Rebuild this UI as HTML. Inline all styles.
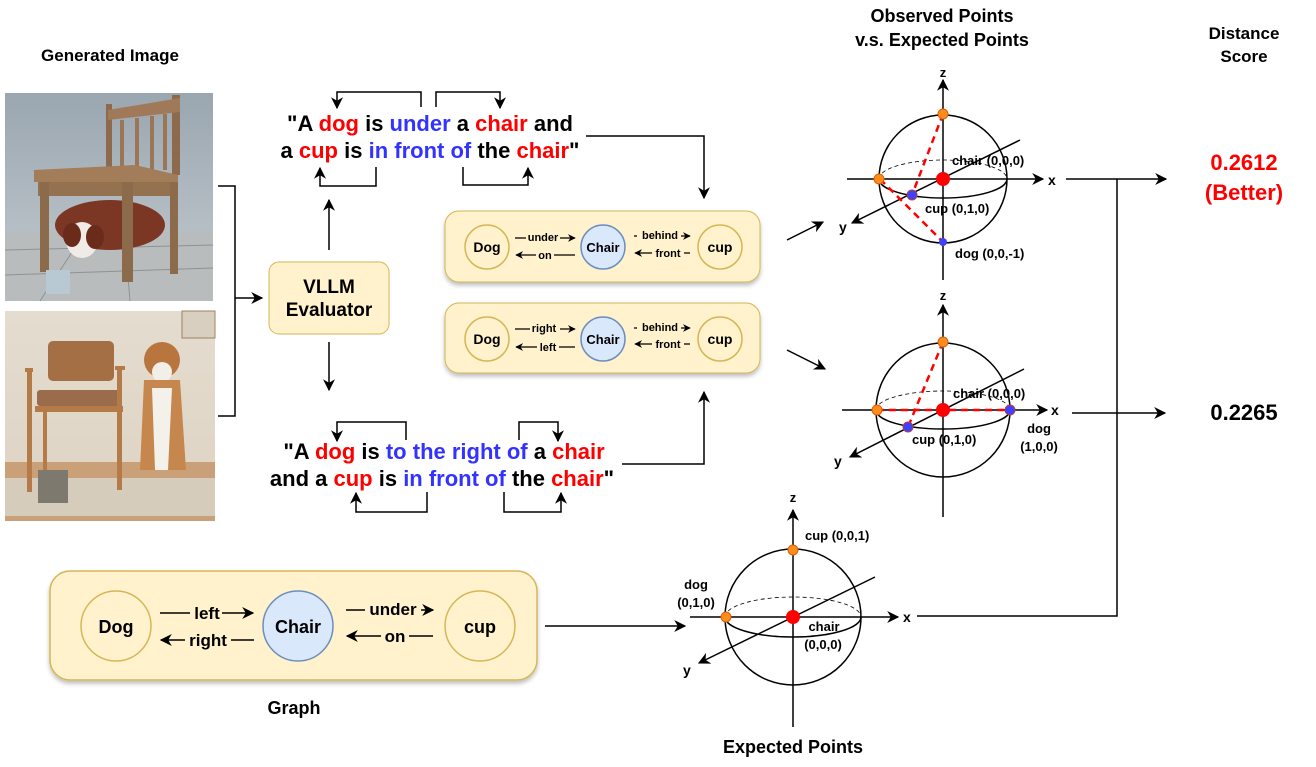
<!DOCTYPE html>
<html><head><meta charset="utf-8"><style>
html,body{margin:0;padding:0;background:#fff;}
svg{display:block;}
text{font-family:"Liberation Sans",Arial,sans-serif;font-weight:bold;}
</style></head><body>
<svg width="1316" height="767" viewBox="0 0 1316 767" xmlns="http://www.w3.org/2000/svg">
<defs>
<marker id="a" viewBox="0 0 10 10" refX="9" refY="5" markerWidth="8" markerHeight="8" orient="auto-start-reverse"><path d="M0,0 L10,5 L0,10 L3,5 z" fill="#000"/></marker>
<marker id="s" viewBox="0 0 10 10" refX="9" refY="5" markerWidth="6" markerHeight="6" orient="auto-start-reverse"><path d="M0,0 L10,5 L0,10 L3,5 z" fill="#000"/></marker>
<linearGradient id="w1" x1="0" y1="0" x2="0" y2="1"><stop offset="0" stop-color="#9aa6b0"/><stop offset="1" stop-color="#c4cbd0"/></linearGradient>
<linearGradient id="w2" x1="0" y1="0" x2="0" y2="1"><stop offset="0" stop-color="#e4dccf"/><stop offset="1" stop-color="#ddd3c3"/></linearGradient>
<filter id="sh" x="-5%" y="-5%" width="110%" height="120%"><feDropShadow dx="0" dy="3" stdDeviation="2" flood-color="#000" flood-opacity="0.25"/></filter>
</defs>

<!-- Image 1 -->
<rect x="5" y="93" width="208" height="208" fill="url(#w1)"/>
<rect x="5" y="232" width="208" height="69" fill="#b9bcbd"/>
<g stroke="#8e9295" stroke-width="1"><line x1="5" y1="250" x2="213" y2="245"/><line x1="5" y1="275" x2="213" y2="268"/><line x1="40" y1="301" x2="80" y2="240"/><line x1="130" y1="301" x2="125" y2="240"/></g>
<rect x="106" y="104" width="6" height="70" fill="#8d6a4e"/><rect x="172" y="95" width="8" height="80" fill="#8d6a4e"/>
<path d="M108,110 L180,98 L180,112 L108,120z" fill="#a07a58"/>
<g fill="#9a7655"><rect x="120" y="120" width="4" height="50"/><rect x="135" y="118" width="4" height="52"/><rect x="150" y="116" width="4" height="54"/><rect x="163" y="114" width="4" height="56"/></g>
<path d="M34,170 L135,165 L178,175 L178,182 L34,182z" fill="#a37c5a"/>
<rect x="38" y="182" width="135" height="14" fill="#94714f"/>
<ellipse cx="110" cy="225" rx="55" ry="25" fill="#7b3624"/>
<ellipse cx="82" cy="240" rx="16" ry="18" fill="#f0ebe6"/><ellipse cx="72" cy="235" rx="9" ry="12" fill="#6b2b1b"/>
<ellipse cx="95" cy="237" rx="9" ry="12" fill="#6b2b1b"/>
<rect x="40" y="182" width="9" height="90" fill="#8c6a4c"/><rect x="122" y="182" width="11" height="100" fill="#8c6a4c"/><rect x="170" y="182" width="8" height="92" fill="#8c6a4c"/>
<rect x="46" y="270" width="24" height="24" fill="#b8c9d3"/>

<!-- Image 2 -->
<rect x="5" y="311" width="210" height="210" fill="url(#w2)"/>
<rect x="5" y="462" width="210" height="59" fill="#c9a077"/>
<rect x="5" y="478" width="210" height="38" fill="#d6ccbb"/>
<rect x="182" y="311" width="33" height="27" fill="#d8cfc0" stroke="#9c8361" stroke-width="1"/>
<rect x="48" y="341" width="66" height="40" rx="5" fill="#a56f45"/>
<rect x="37" y="390" width="84" height="16" rx="3" fill="#9a6c4c"/>
<g fill="#b47a48"><rect x="25" y="368" width="8" height="4"/><rect x="115" y="366" width="10" height="4"/><rect x="27" y="372" width="5" height="120"/><rect x="117" y="370" width="5" height="120"/><rect x="43" y="408" width="4" height="75"/><rect x="35" y="406" width="88" height="6"/></g>
<ellipse cx="162" cy="360" rx="18" ry="18" fill="#b8753e"/>
<ellipse cx="162" cy="372" rx="10" ry="10" fill="#f2eee8"/>
<path d="M144,380 L180,380 L186,470 L140,470z" fill="#c6874e"/>
<path d="M152,388 L172,388 L168,470 L155,470z" fill="#f4f0ea"/>
<rect x="38" y="470" width="30" height="33" fill="#7d796f"/>

<!-- bracket from images -->
<path d="M218,186 H235 V416 H218" fill="none" stroke="#000" stroke-width="1.5"/>
<line x1="235" y1="298" x2="262" y2="298" stroke="#000" stroke-width="1.5" marker-end="url(#a)"/>

<!-- VLLM box -->
<rect x="269" y="262" width="120" height="72" rx="10" fill="#fff2cc" stroke="#d6b656" stroke-width="1"/>
<text x="329" y="293" font-size="19" text-anchor="middle">VLLM</text>
<text x="329" y="316" font-size="19" text-anchor="middle">Evaluator</text>
<line x1="329" y1="250" x2="329" y2="200" stroke="#000" stroke-width="1.5" marker-end="url(#a)"/>
<line x1="329" y1="342" x2="329" y2="390" stroke="#000" stroke-width="1.5" marker-end="url(#a)"/>

<!-- Top sentence -->
<text x="430" y="131" font-size="22" text-anchor="middle">"A <tspan fill="#ff0000">dog</tspan> is  <tspan fill="#3333ff">under</tspan> a <tspan fill="#ff0000">chair</tspan> and</text>
<text x="430" y="158" font-size="22" text-anchor="middle">a <tspan fill="#ff0000">cup</tspan> is <tspan fill="#3333ff">in front of</tspan> the <tspan fill="#ff0000">chair</tspan>"</text>
<g fill="none" stroke="#000" stroke-width="1.5">
<path d="M421,107 V92 H337 V108" marker-end="url(#a)"/>
<path d="M436,107 V92 H500 V108" marker-end="url(#a)"/>
<path d="M376,167 V186 H320 V168" marker-end="url(#a)"/>
<path d="M463,167 V185 H528 V168" marker-end="url(#a)"/>
<path d="M586,136 H704 V198" marker-end="url(#a)"/>
</g>

<!-- Bottom sentence -->
<text x="444" y="459" font-size="22" text-anchor="middle">"A <tspan fill="#ff0000">dog</tspan> is <tspan fill="#3333ff">to the right of</tspan> a <tspan fill="#ff0000">chair</tspan></text>
<text x="442" y="486" font-size="22" text-anchor="middle">and a <tspan fill="#ff0000">cup</tspan> is <tspan fill="#3333ff">in front of</tspan> the <tspan fill="#ff0000">chair</tspan>"</text>
<g fill="none" stroke="#000" stroke-width="1.5">
<path d="M406,440 V422 H337 V441" marker-end="url(#a)"/>
<path d="M519,440 V422 H558 V441" marker-end="url(#a)"/>
<path d="M427,492 V512 H356 V493" marker-end="url(#a)"/>
<path d="M504,492 V512 H561 V493" marker-end="url(#a)"/>
<path d="M622,464 H704 V392" marker-end="url(#a)"/>
</g>

<!-- small graph boxes -->
<g font-size="13">
<rect x="445" y="211" width="315" height="71" rx="14" fill="#fff2cc" stroke="#d6b656" filter="url(#sh)"/>
<circle cx="487" cy="247" r="22" fill="#fff2cc" stroke="#d6b656" stroke-width="1.5"/>
<circle cx="603" cy="247" r="22" fill="#dae8fc" stroke="#6c8ebf" stroke-width="1.5"/>
<circle cx="720" cy="247" r="22" fill="#fff2cc" stroke="#d6b656" stroke-width="1.5"/>
<text x="487" y="252" text-anchor="middle" font-size="14">Dog</text>
<text x="603" y="252" text-anchor="middle" font-size="13">Chair</text>
<text x="720" y="252" text-anchor="middle" font-size="14">cup</text>
<line x1="515" y1="238" x2="575" y2="238" stroke="#000" stroke-width="1.3" marker-end="url(#s)"/>
<rect x="526" y="230" width="34" height="13" fill="#fff2cc"/><text x="543" y="241" text-anchor="middle" font-size="11">under</text>
<line x1="575" y1="255" x2="516" y2="255" stroke="#000" stroke-width="1.3" marker-end="url(#s)"/>
<rect x="536" y="248" width="18" height="13" fill="#fff2cc"/><text x="545" y="259" text-anchor="middle" font-size="11">on</text>
<line x1="634" y1="236" x2="690" y2="236" stroke="#000" stroke-width="1.3" marker-end="url(#s)"/>
<rect x="637" y="228" width="44" height="13" fill="#fff2cc"/><text x="660" y="239" text-anchor="middle" font-size="11">behind</text>
<line x1="690" y1="253" x2="635" y2="253" stroke="#000" stroke-width="1.3" marker-end="url(#s)"/>
<rect x="652" y="246" width="32" height="13" fill="#fff2cc"/><text x="668" y="257" text-anchor="middle" font-size="11">front</text>

<rect x="445" y="303" width="315" height="70" rx="14" fill="#fff2cc" stroke="#d6b656" filter="url(#sh)"/>
<circle cx="487" cy="339" r="22" fill="#fff2cc" stroke="#d6b656" stroke-width="1.5"/>
<circle cx="603" cy="339" r="22" fill="#dae8fc" stroke="#6c8ebf" stroke-width="1.5"/>
<circle cx="720" cy="339" r="22" fill="#fff2cc" stroke="#d6b656" stroke-width="1.5"/>
<text x="487" y="344" text-anchor="middle" font-size="14">Dog</text>
<text x="603" y="344" text-anchor="middle" font-size="13">Chair</text>
<text x="720" y="344" text-anchor="middle" font-size="14">cup</text>
<line x1="515" y1="329" x2="575" y2="329" stroke="#000" stroke-width="1.3" marker-end="url(#s)"/>
<rect x="530" y="321" width="30" height="13" fill="#fff2cc"/><text x="544" y="332" text-anchor="middle" font-size="11">right</text>
<line x1="575" y1="347" x2="516" y2="347" stroke="#000" stroke-width="1.3" marker-end="url(#s)"/>
<rect x="537" y="340" width="22" height="13" fill="#fff2cc"/><text x="548" y="351" text-anchor="middle" font-size="11">left</text>
<line x1="634" y1="328" x2="690" y2="328" stroke="#000" stroke-width="1.3" marker-end="url(#s)"/>
<rect x="637" y="320" width="44" height="13" fill="#fff2cc"/><text x="660" y="331" text-anchor="middle" font-size="11">behind</text>
<line x1="690" y1="344" x2="635" y2="344" stroke="#000" stroke-width="1.3" marker-end="url(#s)"/>
<rect x="652" y="337" width="32" height="13" fill="#fff2cc"/><text x="668" y="348" text-anchor="middle" font-size="11">front</text>
</g>
<line x1="787" y1="240" x2="823" y2="222" stroke="#000" stroke-width="1.5" marker-end="url(#a)"/>
<line x1="787" y1="350" x2="825" y2="369" stroke="#000" stroke-width="1.5" marker-end="url(#a)"/>

<!-- Large graph -->
<rect x="50" y="571" width="487" height="109" rx="20" fill="#fff2cc" stroke="#d6b656" stroke-width="1.5" filter="url(#sh)"/>
<ellipse cx="116" cy="626" rx="35" ry="35" fill="#fff2cc" stroke="#d6b656" stroke-width="1.5"/>
<ellipse cx="298" cy="626" rx="35" ry="35" fill="#dae8fc" stroke="#6c8ebf" stroke-width="1.5"/>
<ellipse cx="480" cy="626" rx="35" ry="35" fill="#fff2cc" stroke="#d6b656" stroke-width="1.5"/>
<text x="116" y="633" text-anchor="middle" font-size="18">Dog</text>
<text x="298" y="633" text-anchor="middle" font-size="18">Chair</text>
<text x="480" y="633" text-anchor="middle" font-size="18">cup</text>
<line x1="160" y1="613" x2="253" y2="613" stroke="#000" stroke-width="1.5" marker-end="url(#a)"/>
<rect x="190" y="603" width="32" height="18" fill="#fff2cc"/><text x="207" y="619" text-anchor="middle" font-size="17">left</text>
<line x1="254" y1="640" x2="161" y2="640" stroke="#000" stroke-width="1.5" marker-end="url(#a)"/>
<rect x="185" y="630" width="46" height="20" fill="#fff2cc"/><text x="208" y="646" text-anchor="middle" font-size="17">right</text>
<line x1="346" y1="610" x2="433" y2="610" stroke="#000" stroke-width="1.5" marker-end="url(#a)"/>
<rect x="365" y="600" width="56" height="18" fill="#fff2cc"/><text x="393" y="615" text-anchor="middle" font-size="17">under</text>
<line x1="433" y1="636" x2="347" y2="636" stroke="#000" stroke-width="1.5" marker-end="url(#a)"/>
<rect x="381" y="626" width="28" height="18" fill="#fff2cc"/><text x="395" y="642" text-anchor="middle" font-size="17">on</text>
<text x="294" y="714" text-anchor="middle" font-size="18">Graph</text>
<line x1="545" y1="626" x2="685" y2="626" stroke="#000" stroke-width="1.5" marker-end="url(#a)"/>

<!-- Sphere 1 -->
<g stroke="#000" fill="none" stroke-width="1.5">
<circle cx="943" cy="179" r="64"/>
<path d="M879,179 A64,19 0 0 0 1007,179"/>
<path d="M879,179 A64,19 0 0 1 1007,179" stroke-dasharray="4,3" stroke-width="0.8"/>
<line x1="847" y1="179" x2="1043" y2="179" marker-end="url(#a)"/>
<line x1="943" y1="280" x2="943" y2="80" marker-end="url(#a)"/>
<line x1="1020" y1="140" x2="852" y2="223" marker-end="url(#a)"/>
<line x1="943" y1="114" x2="912" y2="195" stroke="#f00" stroke-width="2.5" stroke-dasharray="7,5"/>
<line x1="880" y1="179" x2="943" y2="242" stroke="#f00" stroke-width="2.5" stroke-dasharray="7,5"/>
</g>
<circle cx="943" cy="114" r="5" fill="#ff8c1a" stroke="#d06010"/>
<circle cx="879" cy="179" r="5" fill="#ff8c1a" stroke="#d06010"/>
<circle cx="943" cy="179" r="7" fill="#f00"/>
<circle cx="912" cy="195" r="5" fill="#4040ff" stroke="#b04040"/>
<circle cx="943" cy="242" r="4" fill="#4040ff"/>
<text x="943" y="77" font-size="13" text-anchor="middle">z</text>
<text x="1048" y="185" font-size="14">x</text>
<text x="839" y="232" font-size="14">y</text>
<text x="952" y="165" font-size="13">chair (0,0,0)</text>
<text x="925" y="213" font-size="13">cup (0,1,0)</text>
<text x="955" y="258" font-size="13">dog (0,0,-1)</text>

<!-- Sphere 2 -->
<g stroke="#000" fill="none" stroke-width="1.5">
<circle cx="943" cy="410" r="67"/>
<path d="M876,410 A67,19 0 0 0 1010,410"/>
<path d="M876,410 A67,19 0 0 1 1010,410" stroke-dasharray="4,3" stroke-width="0.8"/>
<line x1="842" y1="410" x2="1047" y2="410" marker-end="url(#a)"/>
<line x1="943" y1="517" x2="943" y2="305" marker-end="url(#a)"/>
<line x1="1024" y1="369" x2="850" y2="457" marker-end="url(#a)"/>
<line x1="943" y1="342" x2="908" y2="427" stroke="#f00" stroke-width="2.5" stroke-dasharray="7,5"/>
<line x1="877" y1="410" x2="1010" y2="410" stroke="#f00" stroke-width="2.5" stroke-dasharray="7,5"/>
</g>
<circle cx="943" cy="342" r="5" fill="#ff8c1a" stroke="#d06010"/>
<circle cx="877" cy="410" r="5" fill="#ff8c1a" stroke="#d06010"/>
<circle cx="943" cy="410" r="7" fill="#f00"/>
<circle cx="1010" cy="410" r="5" fill="#4040ff" stroke="#b04040"/>
<circle cx="908" cy="427" r="5" fill="#4040ff" stroke="#b04040"/>
<text x="943" y="300" font-size="13" text-anchor="middle">z</text>
<text x="1051" y="415" font-size="14">x</text>
<text x="834" y="466" font-size="14">y</text>
<text x="953" y="398" font-size="13">chair (0,0,0)</text>
<text x="912" y="444" font-size="13">cup (0,1,0)</text>
<text x="1039" y="433" font-size="13" text-anchor="middle">dog</text>
<text x="1039" y="451" font-size="13" text-anchor="middle">(1,0,0)</text>

<!-- Sphere 3 -->
<g stroke="#000" fill="none" stroke-width="1.5">
<circle cx="793" cy="617" r="68"/>
<path d="M725,617 A68,20 0 0 0 861,617"/>
<path d="M725,617 A68,20 0 0 1 861,617" stroke-dasharray="4,3" stroke-width="0.8"/>
<line x1="690" y1="617" x2="898" y2="617" marker-end="url(#a)"/>
<line x1="793" y1="727" x2="793" y2="510" marker-end="url(#a)"/>
<line x1="875" y1="577" x2="699" y2="663" marker-end="url(#a)"/>
</g>
<circle cx="793" cy="550" r="5" fill="#ff8c1a" stroke="#d06010"/>
<circle cx="726" cy="617" r="5" fill="#ff8c1a" stroke="#d06010"/>
<circle cx="793" cy="617" r="7" fill="#f00"/>
<text x="793" y="502" font-size="13" text-anchor="middle">z</text>
<text x="903" y="622" font-size="14">x</text>
<text x="683" y="675" font-size="14">y</text>
<text x="805" y="540" font-size="13">cup (0,0,1)</text>
<text x="696" y="589" font-size="13" text-anchor="middle">dog</text>
<text x="696" y="607" font-size="13" text-anchor="middle">(0,1,0)</text>
<text x="824" y="631" font-size="13" text-anchor="middle">chair</text>
<text x="823" y="649" font-size="13" text-anchor="middle">(0,0,0)</text>
<text x="793" y="753" font-size="18" text-anchor="middle">Expected Points</text>

<!-- right connectors -->
<g stroke="#000" fill="none" stroke-width="1.5">
<line x1="1066" y1="179" x2="1166" y2="179" marker-end="url(#a)"/>
<line x1="1072" y1="413" x2="1165" y2="413" marker-end="url(#a)"/>
<path d="M917,616 H1117 V179"/>
</g>

<!-- titles -->
<text x="110" y="61" font-size="17" text-anchor="middle">Generated Image</text>
<text x="942" y="22" font-size="18" text-anchor="middle">Observed Points</text>
<text x="942" y="46" font-size="18" text-anchor="middle">v.s. Expected Points</text>
<text x="1244" y="39" font-size="17" text-anchor="middle">Distance</text>
<text x="1244" y="62" font-size="17" text-anchor="middle">Score</text>
<text x="1244" y="170" font-size="22" text-anchor="middle" fill="#ff0000">0.2612</text>
<text x="1244" y="200" font-size="22" text-anchor="middle" fill="#ff0000">(Better)</text>
<text x="1244" y="420" font-size="22" text-anchor="middle">0.2265</text>
</svg>
</body></html>
